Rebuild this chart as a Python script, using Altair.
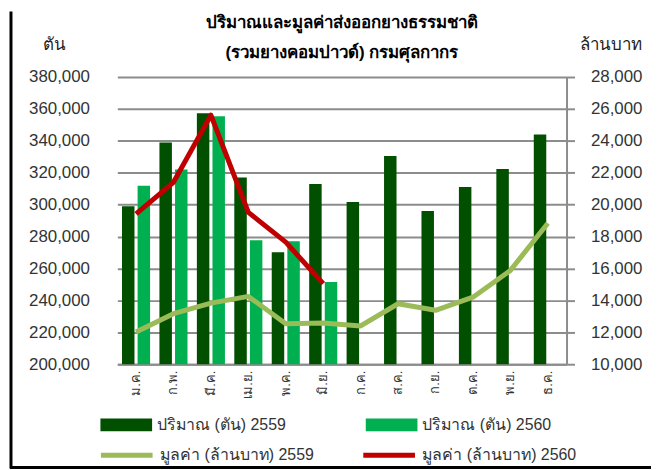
import altair as alt
import pandas as pd

months = ["ม.ค.", "ก.พ.", "มี.ค.", "เม.ย.", "พ.ค.", "มิ.ย.",
          "ก.ค.", "ส.ค.", "ก.ย.", "ต.ค.", "พ.ย.", "ธ.ค."]
vol_2559 = [299000, 339000, 357300, 317100, 270200, 313000,
            301700, 330500, 296100, 311100, 322300, 343900]
vol_2560 = [311900, 322000, 355450, 277700, 277100, 251500]
val_2559 = [12020, 13170, 13830, 14250, 12540, 12580,
            12400, 13790, 13380, 14200, 15880, 18840]
val_2560 = [19420, 21400, 25610, 19520, 17650, 15050]

bar_labels = ["ปริมาณ (ตัน) 2559", "ปริมาณ (ตัน) 2560"]
line_labels = ["มูลค่า (ล้านบาท) 2559", "มูลค่า (ล้านบาท) 2560"]
bar_colors = ["#005000", "#00B050"]
line_colors = ["#9BBB59", "#C00000"]

rows = []
for m, v in zip(months, vol_2559):
    rows.append({"month": m, "series": bar_labels[0], "value": v})
for m, v in zip(months, vol_2560):
    rows.append({"month": m, "series": bar_labels[1], "value": v})
df_bar = pd.DataFrame(rows)

df_line_a = pd.DataFrame({"month": months, "series": line_labels[0],
                          "value": val_2559})
df_line_b = pd.DataFrame({"month": months[:len(val_2560)],
                          "series": line_labels[1], "value": val_2560})

FONT = "Liberation Sans, Noto Sans, sans-serif"
GRID = "#8c8c8c"

x_enc = alt.X("month:N", sort=months,
              scale=alt.Scale(paddingInner=0.25, paddingOuter=0.125),
              axis=alt.Axis(title=None, labelAngle=-90, labelFontSize=13,
                            labelColor="#333333", ticks=False, labelPadding=6,
                            domainColor=GRID, domainWidth=2))

bars = alt.Chart(df_bar).mark_bar().encode(
    x=x_enc,
    xOffset=alt.XOffset("series:N", sort=bar_labels,
                        scale=alt.Scale(paddingInner=0.2)),
    y=alt.Y("value:Q",
            scale=alt.Scale(domain=[200000, 380000], nice=False, zero=False),
            axis=alt.Axis(title="ตัน", titleAngle=0, titleX=-64, titleY=-33,
                          titleAlign="center", titleBaseline="middle",
                          titleFontSize=17, titleFontWeight="normal",
                          titleColor="#222222",
                          values=list(range(200000, 380001, 20000)),
                          format=",d", labelFontSize=17, labelColor="#333333",
                          ticks=False, domain=False, labelPadding=28,
                          gridColor=GRID, gridWidth=2)),
    y2=alt.datum(200000),
    fill=alt.Fill("series:N", sort=bar_labels,
                  scale=alt.Scale(domain=bar_labels, range=bar_colors),
                  legend=alt.Legend(title=None, orient="none", legendX=-17,
                                    legendY=324, direction="horizontal",
                                    columns=2, columnPadding=79,
                                    symbolType="M-1,-0.25L1,-0.25L1,0.25L-1,0.25Z",
                                    symbolSize=2704, symbolStrokeWidth=0,
                                    labelFontSize=16, labelColor="#333333",
                                    labelOffset=5, padding=0)),
)

right_axis = alt.Axis(title="ล้านบาท", orient="right", titleAngle=0,
                      titleX=44, titleY=-33, titleAlign="center",
                      titleBaseline="middle", titleFontSize=17,
                      titleFontWeight="normal", titleColor="#222222",
                      values=list(range(10000, 28001, 2000)),
                      format=",d", labelFontSize=17, labelColor="#333333",
                      grid=False, tickSize=8, tickColor=GRID, tickWidth=2,
                      domainColor=GRID, domainWidth=2, labelPadding=16)
y_line = alt.Y("value:Q",
               scale=alt.Scale(domain=[10000, 28000], nice=False, zero=False),
               axis=right_axis)


def line_layer(df, idx, lx):
    return alt.Chart(df).mark_line(strokeWidth=5, strokeJoin="round").encode(
        x=alt.X("month:N", sort=months),
        y=y_line,
        stroke=alt.Stroke(
            "series:N",
            scale=alt.Scale(domain=[line_labels[idx]], range=[line_colors[idx]]),
            legend=alt.Legend(title=None, orient="none", legendX=lx,
                              legendY=352, symbolType="stroke",
                              symbolSize=2704, symbolStrokeWidth=5,
                              labelFontSize=16, labelColor="#333333",
                              labelOffset=5, padding=0)),
    )


lines = alt.layer(line_layer(df_line_a, 0, -19),
                  line_layer(df_line_b, 1, 245)).resolve_scale(stroke="independent")

frame = pd.DataFrame({"k": [0]})
left_border = alt.Chart(frame).mark_rule(color="black", strokeWidth=3).encode(
    x=alt.value(-107), y=alt.value(-66), y2=alt.value(394))
bottom_border = alt.Chart(frame).mark_rule(color="black", strokeWidth=3).encode(
    x=alt.value(-108), x2=alt.value(537), y=alt.value(393))

chart = alt.layer(bars, lines, left_border, bottom_border).resolve_scale(
    y="independent", fill="independent", stroke="independent"
).properties(
    width=452, height=289,
    title=alt.TitleParams(
        ["ปริมาณและมูลค่าส่งออกยางธรรมชาติ", "(รวมยางคอมปาวด์) กรมศุลกากร"],
        fontSize=17, fontWeight="bold", lineHeight=30, offset=-52,
        anchor="middle", frame="group", color="#000000", font=FONT),
    padding={"left": 0, "top": 0, "right": 0, "bottom": 0},
).configure(font=FONT, background="white").configure_view(stroke=None)

chart.save("out.html", embed_options={"renderer": "svg", "actions": False})
